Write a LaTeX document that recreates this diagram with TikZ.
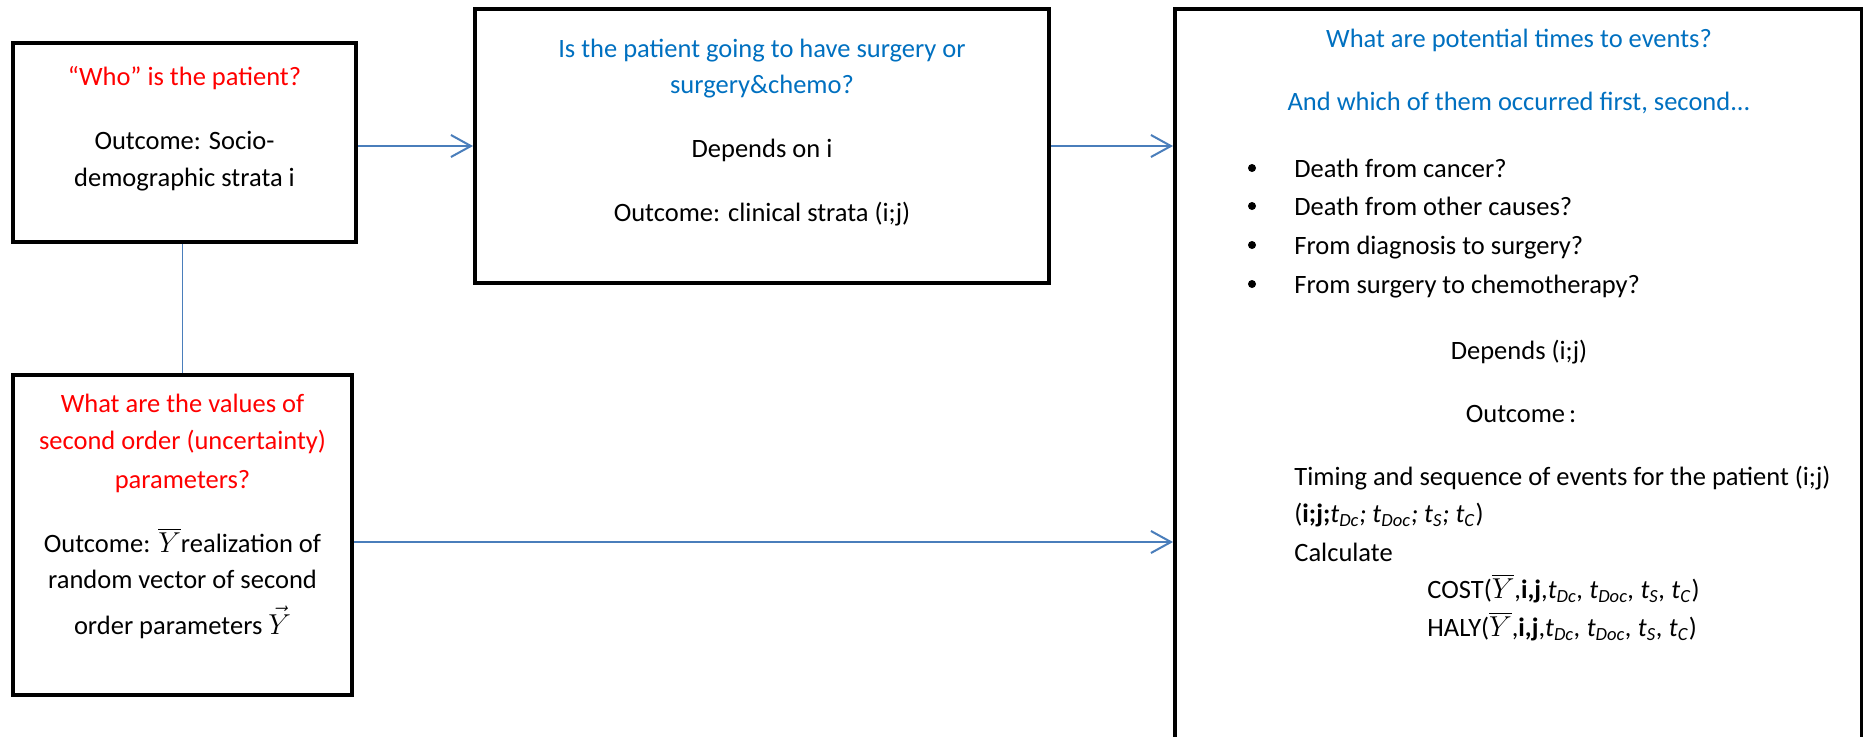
\documentclass[tikz,border=0pt]{standalone}
\usepackage{fontspec}
\setmainfont{Carlito}
\usetikzlibrary{arrows.meta}
\definecolor{redq}{HTML}{FF0000}
\definecolor{blueq}{HTML}{0070C0}
\definecolor{connblue}{HTML}{4A7EBB}
\newcommand\tvar[1]{\textit{t}\textsubscript{\textit{#1}}}
\begin{document}
\begin{tikzpicture}[x=0.5pt,y=-0.5pt,
  box/.style={draw=black, line width=2pt, rectangle, inner sep=0pt},
  txt/.style={anchor=base, inner sep=0pt, font=\fontsize{13.25}{16}\selectfont},
  lft/.style={txt, anchor=base west},
  redt/.style={txt, text=redq},
  bluet/.style={txt, text=blueq},
  dot/.style={circle, fill=black, inner sep=0pt, minimum size=4pt},
  connector/.style={draw=connblue, line width=1pt},
  arr/.style={connector, -{Straight Barb[length=10pt,width=11pt]}}
]
\useasboundingbox (0,0) rectangle (1863,736);
\clip (0,0) rectangle (1863,736);

% boxes
\node[box, minimum width=171.5pt, minimum height=99.5pt] (b1) at (184.5,142.5) {};
\node[box, minimum width=287pt, minimum height=137pt] (b2) at (762,146) {};
\node[box, minimum width=169.5pt, minimum height=160pt] (b3) at (182.5,535) {};
\node[box, minimum width=343.25pt, minimum height=405.5pt] (b4) at (1518.25,414.5) {};

% box 1
\node[redt] (t11) at (184.5,85) {“Who” is the patient?};
\node[txt] (t12) at (184.5,149) {Outcome: Socio-};
\node[txt] (t13) at (184.5,186) {demographic strata i};

% box 2
\node[bluet] (t21) at (762,57) {Is the patient going to have surgery or};
\node[bluet] (t22) at (762,93) {surgery\&chemo?};
\node[txt] (t23) at (762,157) {Depends on i};
\node[txt] (t24) at (762,221) {Outcome: clinical strata (i;j)};

% box 3
\node[redt] (t31) at (182.5,412) {What are the values of};
\node[redt] (t32) at (182.5,449) {second order (uncertainty)};
\node[redt] (t33) at (182.5,488) {parameters?};
\node[txt] (t34) at (182.5,552) {Outcome: $\overline{Y}$realization of};
\node[txt] (t35) at (182.5,588) {random vector of second};
\node[txt] (t36) at (182.5,634) {order parameters $\smash{\vec{Y}}$};

% box 4
\node[bluet] (t41) at (1519,47) {What are potential times to events?};
\node[bluet] (t42) at (1519,110) {And which of them occurred first, second...};
\node[dot] (d1) at (1252,168) {};
\node[dot] (d2) at (1252,206) {};
\node[dot] (d3) at (1252,245) {};
\node[dot] (d4) at (1252,284) {};
\node[lft] (l1) at (1294,177) {Death from cancer?};
\node[lft] (l2) at (1294,215) {Death from other causes?};
\node[lft] (l3) at (1294,254) {From diagnosis to surgery?};
\node[lft] (l4) at (1294,293) {From surgery to chemotherapy?};
\node[txt] (t43) at (1519,359) {Depends (i;j)};
\node[txt] (t44) at (1521,422) {Outcome\kern2pt:};
\node[lft] (t45) at (1294,485) {Timing and sequence of events for the patient (i;j)};
\node[lft] (t46) at (1294,522) {(\textbf{i;j;}\tvar{Dc}\textit{;} \tvar{Doc}\textit{;} \tvar{S}\textit{;} \tvar{C})};
\node[lft] (t47) at (1294,561) {Calculate};
\node[lft] (t48) at (1427,598) {COST($\overline{Y}$,\textbf{i,j},\tvar{Dc}\textit{,} \tvar{Doc}\textit{,} \tvar{S}\textit{,} \tvar{C})};
\node[lft] (t49) at (1427,636) {HALY($\overline{Y}$,\textbf{i,j},\tvar{Dc}\textit{,} \tvar{Doc}\textit{,} \tvar{S}\textit{,} \tvar{C})};

% connectors
\coordinate (y3) at (182.5,542);
\draw[arr] (b1.east |- b2.west) -- (b2.west);
\draw[arr] (b2.east) -- (b4.west |- b2.east);
\draw[arr] (b3.east |- y3) -- (b4.west |- y3);
\draw[connector, line width=0.75pt] (b3.north |- b1.south) -- (b3.north);
\end{tikzpicture}
\end{document}
